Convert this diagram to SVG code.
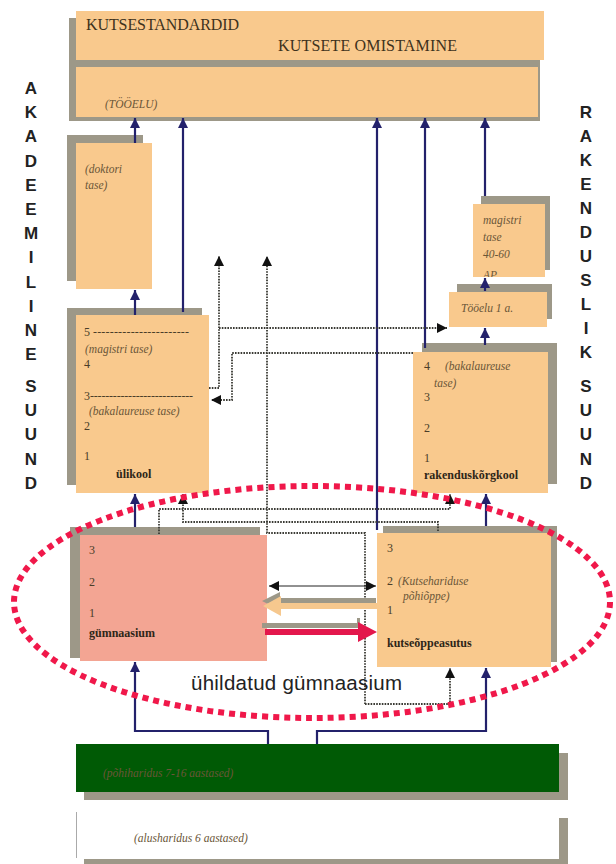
<svg xmlns="http://www.w3.org/2000/svg" width="616" height="864" viewBox="0 0 616 864">
<style>
.box{fill:#F9C98D}
.sh{fill:#9D9888}
.t{font-family:"Liberation Serif",serif;font-size:12px;fill:#4a3d28}
.i{font-family:"Liberation Serif",serif;font-style:italic;font-size:11.5px;fill:#6a5638}
.b{font-family:"Liberation Serif",serif;font-weight:bold;font-size:12px;fill:#2e2618}
.big{font-family:"Liberation Serif",serif;font-size:16px;fill:#3e321c}
.v{font-family:"Liberation Sans",Arial,sans-serif;font-weight:bold;font-size:17px;fill:#222;text-anchor:middle}
.nv{fill:none;stroke:#23216b;stroke-width:2.2;marker-end:url(#an)}
.dta{fill:none;stroke:#3a3a34;stroke-width:1.8;stroke-dasharray:1.6 1.2;marker-end:url(#ab)}
</style>
<defs>
<marker id="an" markerUnits="userSpaceOnUse" markerWidth="11" markerHeight="11" refX="10" refY="5" orient="auto"><path d="M0,0 L10,5 L0,10 z" fill="#23216b"/></marker>
<marker id="ab" markerUnits="userSpaceOnUse" markerWidth="11" markerHeight="11" refX="10" refY="5" orient="auto"><path d="M0,0 L10,5 L0,10 z" fill="#111"/></marker>
<marker id="as" markerUnits="userSpaceOnUse" markerWidth="11" markerHeight="11" refX="10" refY="5" orient="auto-start-reverse"><path d="M0,0 L10,5 L0,10 z" fill="#111"/></marker>
</defs>
<rect width="616" height="864" fill="#fff"/>

<g id="kutsestandardid">
<rect class="sh" x="69" y="18" width="471" height="103"/>
<rect class="box" x="76" y="11" width="468" height="49"/>
<rect class="box" x="76" y="67" width="462" height="50"/>
<text class="big" x="86" y="30" textLength="153">KUTSESTANDARDID</text>
<text class="big" x="278" y="51" textLength="179">KUTSETE OMISTAMINE</text>
<text class="i" x="105" y="108" font-size="11">(TÖÖELU)</text>
</g>

<g id="akadeemiline">
<text class="v" x="31" y="94">A</text><text class="v" x="31" y="118">K</text><text class="v" x="31" y="142">A</text><text class="v" x="31" y="167">D</text><text class="v" x="31" y="191">E</text><text class="v" x="31" y="215">E</text><text class="v" x="31" y="239">M</text><text class="v" x="31" y="263">I</text><text class="v" x="31" y="288">L</text><text class="v" x="31" y="312">I</text><text class="v" x="31" y="336">N</text><text class="v" x="31" y="360">E</text><text class="v" x="31" y="392">S</text><text class="v" x="31" y="416">U</text><text class="v" x="31" y="440">U</text><text class="v" x="31" y="465">N</text><text class="v" x="31" y="489">D</text>
</g>
<g id="rakenduslik">
<text class="v" x="586" y="118">R</text><text class="v" x="586" y="142">A</text><text class="v" x="586" y="166">K</text><text class="v" x="586" y="190">E</text><text class="v" x="586" y="214">N</text><text class="v" x="586" y="238">D</text><text class="v" x="586" y="262">U</text><text class="v" x="586" y="286">S</text><text class="v" x="586" y="310">L</text><text class="v" x="586" y="334">I</text><text class="v" x="586" y="358">K</text><text class="v" x="586" y="392">S</text><text class="v" x="586" y="416">U</text><text class="v" x="586" y="440">U</text><text class="v" x="586" y="465">N</text><text class="v" x="586" y="489">D</text>
</g>

<g id="doktori">
<rect class="sh" x="67" y="135" width="76" height="146"/>
<rect class="box" x="76" y="143" width="76" height="146"/>
<text class="i" x="85" y="173" font-size="10.5">(doktori</text>
<text class="i" x="85" y="189" font-size="10.5">tase)</text>
</g>

<g id="ulikool">
<rect class="sh" x="67" y="308" width="135" height="177"/>
<rect class="box" x="76" y="315" width="133" height="178"/>
<text class="t" x="84" y="336">5 <tspan textLength="96" lengthAdjust="spacing">-----------------------</tspan></text>
<text class="i" x="85" y="353">(magistri tase)</text>
<text class="t" x="84" y="368">4</text>
<text class="t" x="84" y="400">3<tspan textLength="103" lengthAdjust="spacing">---------------------------</tspan></text>
<text class="i" x="89" y="415">(bakalaureuse tase)</text>
<text class="t" x="84" y="430">2</text>
<text class="t" x="84" y="460">1</text>
<text class="b" x="116" y="478">ülikool</text>
</g>

<g id="magistri">
<rect class="sh" x="481" y="196" width="69" height="74"/>
<svg x="473" y="204" width="72" height="73" overflow="hidden">
<rect class="box" x="0" y="0" width="72" height="73"/>
<text class="i" x="10" y="20" font-size="14">magistri</text>
<text class="i" x="10" y="37" font-size="14">tase</text>
<text class="i" x="10" y="54" font-size="14">40-60</text>
<text class="i" x="10" y="75" font-size="14">AP</text>
</svg>
</g>

<g id="tooelu">
<rect class="sh" x="457" y="284" width="95" height="35"/>
<rect class="box" x="449" y="292" width="98" height="35"/>
<text class="i" x="461" y="312" font-size="12">Tööelu 1 a.</text>
</g>

<g id="rakenduskorgkool">
<rect class="sh" x="422" y="343" width="135" height="141"/>
<rect class="box" x="413" y="352" width="135" height="141"/>
<text class="t" x="424" y="370">4</text>
<text class="i" x="445" y="370">(bakalaureuse</text>
<text class="i" x="434" y="387">tase)</text>
<text class="t" x="424" y="401">3</text>
<text class="t" x="424" y="432">2</text>
<text class="t" x="424" y="462">1</text>
<text class="b" x="424" y="479">rakenduskõrgkool</text>
</g>

<g id="gumnaasium">
<rect class="sh" x="70" y="527" width="190" height="131"/>
<rect x="80" y="535" width="187" height="126" fill="#F3A593"/>
<text class="t" x="89" y="554">3</text>
<text class="t" x="89" y="586">2</text>
<text class="t" x="89" y="617">1</text>
<text class="b" x="89" y="637" font-size="11.5">gümnaasium</text>
</g>

<g id="kutseoppeasutus">
<rect class="sh" x="383" y="526" width="174" height="136"/>
<rect class="box" x="377" y="533" width="174" height="134"/>
<text class="t" x="387" y="552">3</text>
<text class="t" x="387" y="585">2</text>
<text class="i" x="398" y="585">(Kutsehariduse</text>
<text class="i" x="403" y="600">põhiõppe)</text>
<text class="t" x="387" y="614">1</text>
<text class="b" x="387" y="647" font-size="11.5">kutseõppeasutus</text>
</g>

<g id="pohiharidus">
<rect class="sh" x="84" y="753" width="484" height="47"/>
<rect x="76" y="744" width="483" height="48" fill="#005A05"/>
<text class="i" x="103" y="777" font-size="11" fill="#1d3d14">(põhiharidus 7-16 aastased)</text>
</g>

<g id="alusharidus">
<rect class="sh" x="84" y="818" width="484" height="46"/>
<rect x="76" y="810" width="483" height="49" fill="#fff"/>
<line x1="76.5" y1="812" x2="76.5" y2="858" stroke="#aaa" stroke-width="1"/>
<text class="i" x="134" y="842" font-size="11" fill="#666">(alusharidus 6 aastased)</text>
</g>

<g id="connectors">
<path class="nv" d="M135,143 V118"/>
<path class="nv" d="M135,315 V290"/>
<path class="nv" d="M183,312 V118"/>
<path class="nv" d="M377,530 V118"/>
<path class="nv" d="M425,348 V118"/>
<path class="nv" d="M485,196 V118"/>
<path class="nv" d="M485,291 V278"/>
<path class="nv" d="M485,345 V328"/>
<path class="nv" d="M135,527 V494"/>
<path class="nv" d="M486,526 V494"/>
<path class="nv" d="M268,744 V731 H135 V662"/>
<path class="nv" d="M317,744 V731 H486 V668"/>

<path class="dta" d="M209,388 H219 V256"/>
<path class="dta" d="M219,328 H447"/>
<path class="dta" d="M413,353 H232 V400 H211"/>
<path class="dta" d="M365,704 H450 V668"/>
<path class="dta" d="M365,704 V533 H267 V256"/>
<path class="dta" d="M159,534 V509 H450 V494"/>
<path class="dta" d="M438,531 V522 H183 V494"/>
<path d="M269,586 H376" stroke="#222" stroke-width="1" fill="none" marker-start="url(#as)" marker-end="url(#as)"/>

<g id="arrow-left">
<path d="M262,601 L280,592 L280,598 L376,598 L376,604 L280,604 L280,610 z" fill="#9D9888"/>
<path d="M263,606 L281,596 L281,603 L377,603 L377,609 L281,609 L281,616 z" fill="#F6C88E"/>
</g>
<g id="arrow-right">
<path d="M262,623 H357 V618 H360 V628 H262 z" fill="#9D9888"/>
<path d="M265,629 H358 V622 L377,632 L358,642 V635 H265 z" fill="#E3174C"/>
</g>
</g>

<g id="uhildatud">
<ellipse cx="312" cy="602" rx="298" ry="116" fill="none" stroke="#F0184A" stroke-width="6" stroke-dasharray="6 5"/>
<text x="191" y="690" font-family="Liberation Sans, Arial, sans-serif" font-size="20.5" fill="#222" textLength="211">ühildatud gümnaasium</text>
</g>
</svg>
